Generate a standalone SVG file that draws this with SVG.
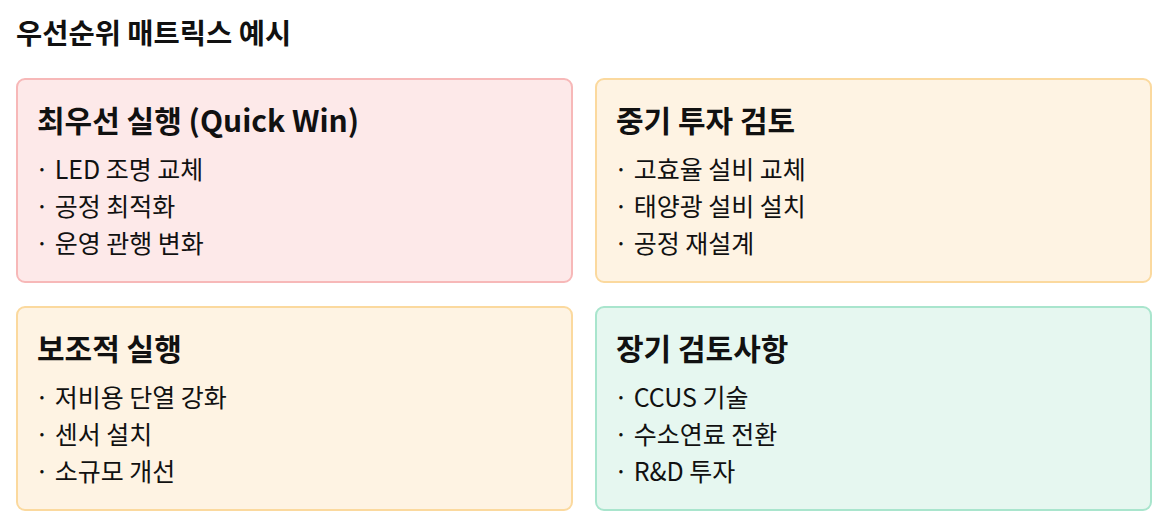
<svg xmlns="http://www.w3.org/2000/svg" width="1170" height="529" viewBox="0 0 1170 529">
<style>
text{font-family:"Noto Sans CJK KR","Noto Sans",sans-serif;fill:#111}
.title{font-size:28.5px;font-weight:700}
.head{font-size:30px;font-weight:700}
.item{font-size:25px;font-weight:400}
.pink{fill:#fde9e9;stroke:#f7b8b8;stroke-width:2}
.yellow{fill:#fef3e3;stroke:#fbd99e;stroke-width:2}
.green{fill:#e6f7f0;stroke:#a9e5cd;stroke-width:2}
</style>
<rect width="1170" height="529" fill="#fff"/>
<text class="title" x="16" y="44">우선순위 매트릭스 예시</text>
<g id="quickwin">
<rect class="pink" x="17" y="79" width="555" height="203" rx="8"/>
<text class="head" x="37" y="132">최우선 실행 (Quick Win)</text>
<text class="item" x="35" y="179">· LED 조명 교체</text>
<text class="item" x="35" y="216">· 공정 최적화</text>
<text class="item" x="35" y="253">· 운영 관행 변화</text>
</g>
<g id="midterm">
<rect class="yellow" x="596" y="79" width="555" height="203" rx="8"/>
<text class="head" x="616" y="132">중기 투자 검토</text>
<text class="item" x="614" y="179">· 고효율 설비 교체</text>
<text class="item" x="614" y="216">· 태양광 설비 설치</text>
<text class="item" x="614" y="253">· 공정 재설계</text>
</g>
<g id="supplementary">
<rect class="yellow" x="17" y="307" width="555" height="203" rx="8"/>
<text class="head" x="37" y="360">보조적 실행</text>
<text class="item" x="35" y="407">· 저비용 단열 강화</text>
<text class="item" x="35" y="444">· 센서 설치</text>
<text class="item" x="35" y="481">· 소규모 개선</text>
</g>
<g id="longterm">
<rect class="green" x="596" y="307" width="555" height="203" rx="8"/>
<text class="head" x="616" y="360">장기 검토사항</text>
<text class="item" x="614" y="407">· CCUS 기술</text>
<text class="item" x="614" y="444">· 수소연료 전환</text>
<text class="item" x="614" y="481">· R&amp;D 투자</text>
</g>
<g id="connectors"></g>
</svg>
